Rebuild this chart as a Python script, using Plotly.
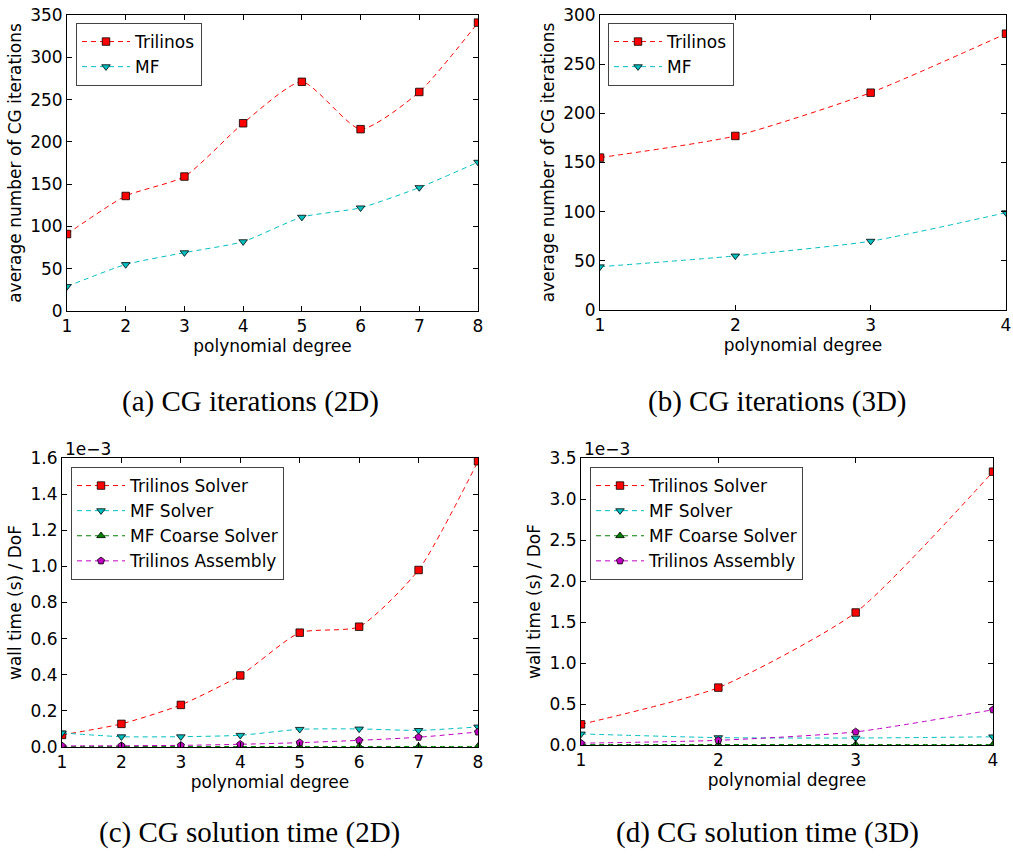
import plotly.graph_objects as go

# ---------------- data ----------------
deg_2d = [1, 2, 3, 4, 5, 6, 7, 8]
deg_3d = [1, 2, 3, 4]

# (a) CG iterations 2D
iter2d_trilinos = [91, 136, 159, 222, 271, 215, 259, 341]
iter2d_mf = [29, 55, 69, 82, 111, 122, 146, 176]

# (b) CG iterations 3D
iter3d_trilinos = [155, 177, 221, 281]
iter3d_mf = [44, 55, 70, 99]

# (c) wall time per DoF, 2D (units of 1e-3 s)
t2d_trilinos_solver = [0.067, 0.128, 0.233, 0.396, 0.633, 0.666, 0.980, 1.582]
t2d_mf_solver = [0.078, 0.057, 0.057, 0.065, 0.098, 0.100, 0.092, 0.111]
t2d_mf_coarse = [0.003, 0.003, 0.003, 0.003, 0.003, 0.003, 0.003, 0.003]
t2d_trilinos_assembly = [0.006, 0.007, 0.009, 0.015, 0.024, 0.037, 0.054, 0.083]

# (d) wall time per DoF, 3D (units of 1e-3 s)
t3d_trilinos_solver = [0.252, 0.700, 1.616, 3.333]
t3d_mf_solver = [0.135, 0.090, 0.085, 0.100]
t3d_mf_coarse = [0.006, 0.006, 0.006, 0.006]
t3d_trilinos_assembly = [0.022, 0.057, 0.160, 0.430]

captions = ["(a) CG iterations (2D)", "(b) CG iterations (3D)",
            "(c) CG solution time (2D)", "(d) CG solution time (3D)"]

# ---------------- styles ----------------
RED = "#FF0000"
CYAN = "#00BFBF"
GREEN = "#008000"
MAGENTA = "#BF00BF"
FONT = "DejaVu Sans"
DASH = "5px,4px"
W, H = 1013, 857

def px_x(p):
    return p / W

def px_y(p):
    return 1 - p / H

def series(x, y, name, color, symbol, xa, ya, legend):
    return go.Scatter(
        x=x, y=y, name=name, mode="lines+markers",
        line=dict(color=color, width=1, dash=DASH, shape="spline", smoothing=0.6),
        marker=dict(symbol=symbol, color=color, size=7.5,
                    line=dict(color="black", width=0.8)),
        xaxis=xa, yaxis=ya, legend=legend,
    )

fig = go.Figure()

fig.add_trace(series(deg_2d, iter2d_trilinos, "Trilinos", RED, "square", "x", "y", "legend"))
fig.add_trace(series(deg_2d, iter2d_mf, "MF", CYAN, "triangle-down", "x", "y", "legend"))

fig.add_trace(series(deg_3d, iter3d_trilinos, "Trilinos", RED, "square", "x2", "y2", "legend2"))
fig.add_trace(series(deg_3d, iter3d_mf, "MF", CYAN, "triangle-down", "x2", "y2", "legend2"))

fig.add_trace(series(deg_2d, t2d_trilinos_solver, "Trilinos Solver", RED, "square", "x3", "y3", "legend3"))
fig.add_trace(series(deg_2d, t2d_mf_solver, "MF Solver", CYAN, "triangle-down", "x3", "y3", "legend3"))
fig.add_trace(series(deg_2d, t2d_mf_coarse, "MF Coarse Solver", GREEN, "triangle-up", "x3", "y3", "legend3"))
fig.add_trace(series(deg_2d, t2d_trilinos_assembly, "Trilinos Assembly", MAGENTA, "pentagon", "x3", "y3", "legend3"))

fig.add_trace(series(deg_3d, t3d_trilinos_solver, "Trilinos Solver", RED, "square", "x4", "y4", "legend4"))
fig.add_trace(series(deg_3d, t3d_mf_solver, "MF Solver", CYAN, "triangle-down", "x4", "y4", "legend4"))
fig.add_trace(series(deg_3d, t3d_mf_coarse, "MF Coarse Solver", GREEN, "triangle-up", "x4", "y4", "legend4"))
fig.add_trace(series(deg_3d, t3d_trilinos_assembly, "Trilinos Assembly", MAGENTA, "pentagon", "x4", "y4", "legend4"))

tickfont = dict(family=FONT, size=17, color="black")

def xaxis(domain, rng, anchor):
    return dict(domain=domain, range=rng, dtick=1, anchor=anchor, automargin=False,
                showline=True, linecolor="black", linewidth=1, mirror="allticks",
                ticks="inside", ticklen=5, tickcolor="black", showgrid=False,
                zeroline=False, tickfont=tickfont,
                title=dict(text="polynomial degree", font=tickfont, standoff=4))

def yaxis(domain, rng, dtick, anchor, title, fmt):
    return dict(domain=domain, range=rng, dtick=dtick, anchor=anchor, automargin=False,
                showline=True, linecolor="black", linewidth=1, mirror="allticks",
                ticks="inside", ticklen=5, tickcolor="black", showgrid=False,
                zeroline=False, tickfont=tickfont, tickformat=fmt,
                title=dict(text=title, font=tickfont, standoff=4))

legend_common = dict(bgcolor="white", bordercolor="#444444", borderwidth=1,
                     font=dict(family=FONT, size=17, color="black"),
                     xanchor="left", yanchor="top", itemwidth=48,
                     tracegroupgap=0)

fig.update_layout(
    template="none",
    width=W, height=H,
    margin=dict(l=0, r=0, t=0, b=0, pad=0, autoexpand=False),
    paper_bgcolor="white", plot_bgcolor="white",
    font=dict(family=FONT, size=17, color="black"),
    xaxis=xaxis([px_x(67), px_x(478)], [1, 8], "y"),
    yaxis=yaxis([px_y(311), px_y(15)], [0, 350], 50, "x",
                "average number of CG iterations", "d"),
    xaxis2=xaxis([px_x(600), px_x(1006)], [1, 4], "y2"),
    yaxis2=yaxis([px_y(310), px_y(15)], [0, 300], 50, "x2",
                 "average number of CG iterations", "d"),
    xaxis3=xaxis([px_x(62), px_x(478)], [1, 8], "y3"),
    yaxis3=yaxis([px_y(747), px_y(458)], [0, 1.6], 0.2, "x3",
                 "wall time (s) / DoF", ".1f"),
    xaxis4=xaxis([px_x(581), px_x(993)], [1, 4], "y4"),
    yaxis4=yaxis([px_y(745), px_y(458)], [0, 3.5], 0.5, "x4",
                 "wall time (s) / DoF", ".1f"),
    legend=dict(x=px_x(76), y=px_y(23), **legend_common),
    legend2=dict(x=px_x(608), y=px_y(23), **legend_common),
    legend3=dict(x=px_x(71), y=px_y(467), **legend_common),
    legend4=dict(x=px_x(590), y=px_y(467), **legend_common),
    showlegend=True,
)

caption_pos = [(250, 401), (777, 401), (249, 832), (767, 832)]
for text, (cx, cy) in zip(captions, caption_pos):
    fig.add_annotation(text=text, x=px_x(cx), y=px_y(cy), xref="paper", yref="paper",
                       showarrow=False, xanchor="center", yanchor="middle",
                       font=dict(family="Liberation Serif", size=29, color="black"))

for cx in (63, 582):
    fig.add_annotation(text="1e\u22123", x=px_x(cx), y=px_y(449), xref="paper", yref="paper",
                       showarrow=False, xanchor="left", yanchor="middle",
                       font=dict(family=FONT, size=17, color="black"))

fig.write_html(
    "out.html",
    config={"displayModeBar": False},
    post_script="document.body.style.margin='0';document.body.style.overflow='hidden';",
)
